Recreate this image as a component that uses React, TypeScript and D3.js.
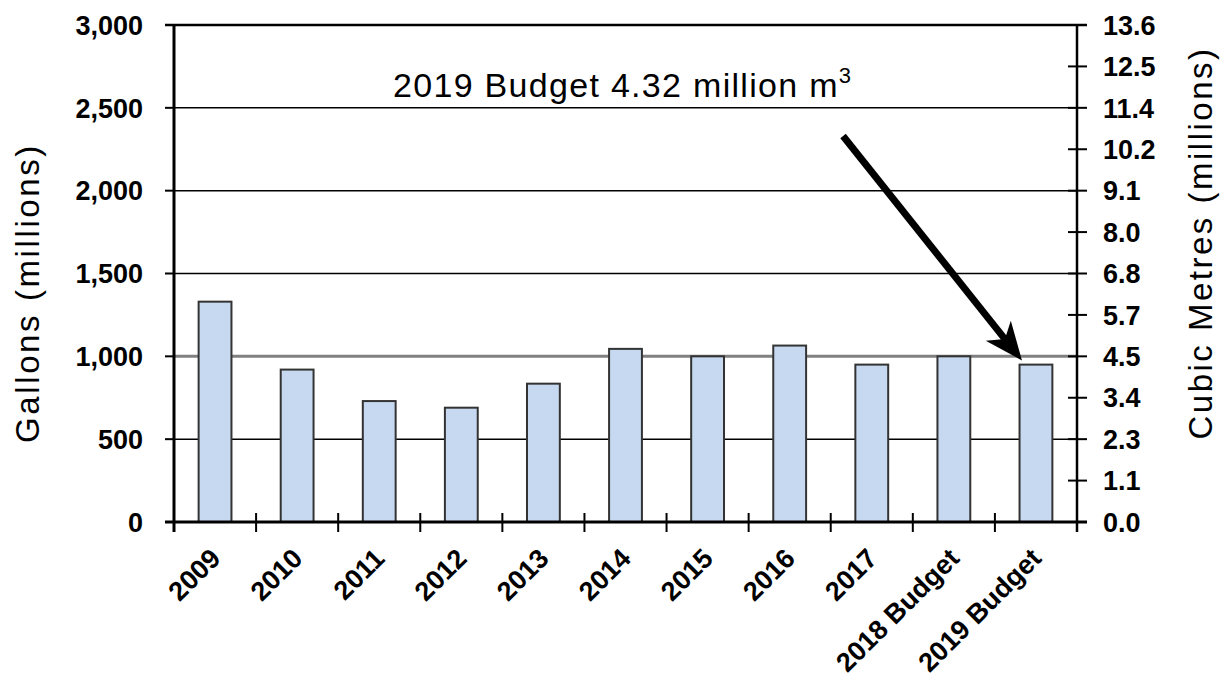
import React from 'react';
import * as d3 from 'd3';

const categories = ['2009', '2010', '2011', '2012', '2013', '2014', '2015', '2016', '2017', '2018 Budget', '2019 Budget'];
const gallons = [1330, 920, 730, 690, 835, 1045, 1000, 1065, 950, 1000, 950];
const leftTicks = [0, 500, 1000, 1500, 2000, 2500, 3000];
const gridValues = [500, 1500, 2000, 2500];
const highlightGrid = [1000];
const M3_PER_GAL = 0.00454609;
const rightTickCount = 12;
const annotationText = '2019 Budget 4.32 million m';
const arrowFrom = { cat: '2017', offset: 0.15, value: 2330 };
const arrowTo = { cat: '2019 Budget', offset: 0.33, value: 975 };

const W = 1221;
const H = 683;
const left = 174;
const right = 1077;
const top = 25;
const bottom = 522;
const FONT = '"Liberation Sans", Arial, sans-serif';
const TICK_FS = 27;

export default function App() {
  const x = d3.scaleBand<string>().domain(categories).range([left, right]).paddingInner(0.6).paddingOuter(0.3);
  const xb = d3.scaleBand<string>().domain(categories).range([left, right]);
  const y = d3.scaleLinear().domain([0, 3000]).range([bottom, top]);
  const yR = d3.scaleLinear().domain([0, 3000 * M3_PER_GAL]).range([bottom, top]);
  const rTicks = d3.range(rightTickCount + 1).map((i) => (3000 * M3_PER_GAL * i) / rightTickCount);
  const fmtL = d3.format(',');
  const fmtR = d3.format('.1f');

  const ax1 = (xb(arrowFrom.cat) as number) + xb.bandwidth() * arrowFrom.offset;
  const ay1 = y(arrowFrom.value);
  const ax2 = (xb(arrowTo.cat) as number) + xb.bandwidth() * arrowTo.offset;
  const ay2 = y(arrowTo.value);
  const ang = Math.atan2(ay2 - ay1, ax2 - ax1);
  const headLen = 38;
  const headW = 16;
  const bx = ax2 - headLen * Math.cos(ang);
  const by = ay2 - headLen * Math.sin(ang);
  const px = -Math.sin(ang);
  const py = Math.cos(ang);
  const notch = 0.72;
  const nx = ax2 - headLen * notch * Math.cos(ang);
  const ny = ay2 - headLen * notch * Math.sin(ang);
  const head = `M${ax2},${ay2} L${bx + px * headW},${by + py * headW} L${nx},${ny} L${bx - px * headW},${by - py * headW} Z`;

  return (
    <svg width={W} height={H} style={{ position: 'absolute', left: 0, top: 0, background: '#fff' }} fontFamily={FONT}>
      <rect x={0} y={0} width={W} height={H} fill="#fff" />
      {/* grid */}
      {gridValues.map((v) => (
        <line key={v} x1={left} x2={right} y1={y(v)} y2={y(v)} stroke="#000" strokeWidth={1.5} />
      ))}
      {highlightGrid.map((v) => (
        <line key={v} x1={left} x2={right} y1={y(v)} y2={y(v)} stroke="#808080" strokeWidth={3} />
      ))}
      {/* bars */}
      {categories.map((c, i) => (
        <rect
          key={c}
          x={x(c)}
          y={y(gallons[i])}
          width={x.bandwidth()}
          height={bottom - y(gallons[i])}
          fill="#c6d9f0"
          stroke="#333"
          strokeWidth={2}
        />
      ))}
      {/* frame */}
      <line x1={left - 9} x2={right + 10} y1={top} y2={top} stroke="#000" strokeWidth={2.5} />
      <line x1={left} x2={left} y1={top} y2={bottom + 10} stroke="#000" strokeWidth={3} />
      <line x1={right} x2={right} y1={top} y2={bottom + 10} stroke="#000" strokeWidth={2.5} />
      <line x1={left - 9} x2={right + 10} y1={bottom} y2={bottom} stroke="#000" strokeWidth={3} />
      {/* left ticks */}
      {leftTicks.map((v) => (
        <g key={v}>
          <line x1={left - 9} x2={left} y1={y(v)} y2={y(v)} stroke="#000" strokeWidth={2} />
          <text x={143} y={y(v)} dy="0.36em" textAnchor="end" fontSize={TICK_FS} fontWeight="bold">
            {fmtL(v)}
          </text>
        </g>
      ))}
      {/* right ticks */}
      {rTicks.map((v, i) => (
        <g key={i}>
          <line x1={right - 9} x2={right + 10} y1={yR(v)} y2={yR(v)} stroke="#000" strokeWidth={2} />
          <text x={1103} y={yR(v)} dy="0.36em" textAnchor="start" fontSize={TICK_FS} fontWeight="bold">
            {fmtR(v)}
          </text>
        </g>
      ))}
      {/* x ticks at band boundaries */}
      {categories.slice(1).map((c) => (
        <line key={c} x1={xb(c)} x2={xb(c)} y1={bottom - 9} y2={bottom + 10} stroke="#000" strokeWidth={2} />
      ))}
      {/* x labels */}
      {categories.map((c) => {
        const cx = (xb(c) as number) + xb.bandwidth() / 2 + 7;
        const cy = 560;
        return (
          <text key={c} x={cx} y={cy} transform={`rotate(-45 ${cx} ${cy})`} textAnchor="end" fontSize={TICK_FS} fontWeight="bold">
            {c}
          </text>
        );
      })}
      {/* axis titles */}
      <text transform={`translate(39 293) rotate(-90)`} textAnchor="middle" fontSize={33} letterSpacing={2.6}>
        Gallons (millions)
      </text>
      <text transform={`translate(1212 243) rotate(-90)`} textAnchor="middle" fontSize={33} letterSpacing={2.5}>
        Cubic Metres (millions)
      </text>
      {/* annotation */}
      <text x={393} y={97} fontSize={34} letterSpacing={1.3}>
        {annotationText}
        <tspan fontSize={22} dy={-14}>3</tspan>
      </text>
      <line x1={ax1} y1={ay1} x2={nx} y2={ny} stroke="#000" strokeWidth={7} />
      <path d={head} fill="#000" />
    </svg>
  );
}
